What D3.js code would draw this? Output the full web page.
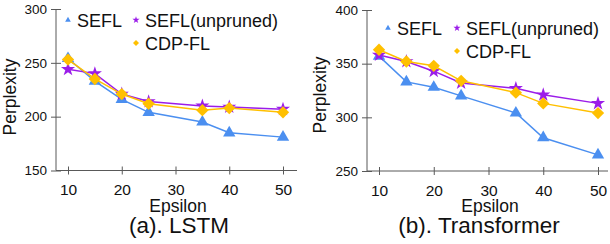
<!DOCTYPE html>
<html>
<head>
<meta charset="utf-8">
<script src="https://cdn.jsdelivr.net/npm/d3@7"></script>
<style>
  body { margin: 0; background: #fff; }
  svg { font-family: "Liberation Sans", Arial, sans-serif; }
</style>
</head>
<body>
<div id="chart"></div>
<script>
var svgWidth = 610;
var svgHeight = 244;

// data
var epsilon = [10, 15, 20, 25, 35, 40, 50];
var xTicks = [10, 20, 30, 40, 50];

var lstmSEFL = [254, 233, 216, 204, 195, 185, 181];
var lstmUnpruned = [244, 240, 221, 214, 210, 209, 207];
var lstmCDP = [253, 235, 221, 212, 206, 208, 204];
var lstmYTicks = [150, 200, 250, 300];

var tfSEFL = [357, 333, 328, 320, 304, 281, 265];
var tfUnpruned = [358, 352, 343, 332, 327, 321, 313];
var tfCDP = [363, 352, 348, 334, 323, 313, 304];
var tfYTicks = [250, 300, 350, 400];

var seriesNames = ["SEFL", "SEFL(unpruned)", "CDP-FL"];
var colors = ["#4b8ff0", "#9b1de9", "#ffc000"];

var svg = d3.select("#chart")
  .append("svg")
  .attr("width", svgWidth)
  .attr("height", svgHeight);

function marker(i, big) {
  if (i === 0) return d3.symbol().type(d3.symbolTriangle).size(big ? 66 : 14)();
  if (i === 1) return d3.symbol().type(d3.symbolStar).size(big ? 62 : 16)();
  return d3.symbol().type(d3.symbolSquare).size(big ? 76 : 18)();
}

function drawPanel(cfg) {
  var g = svg.append("g");

  var x = d3.scaleLinear().domain([10, 50]).range([cfg.x10, cfg.x50]);
  var y = d3.scaleLinear().domain([cfg.yTicks[0], cfg.yTicks[cfg.yTicks.length - 1]])
    .range([cfg.yBottom, cfg.yTop]);

  // axes
  var bottomAxis = d3.axisBottom(x).tickValues(xTicks).tickSize(4).tickSizeOuter(0);
  var xAxis = g.append("g")
    .attr("transform", `translate(0, ${cfg.yBottom})`)
    .call(bottomAxis);
  xAxis.select(".domain").remove();
  xAxis.selectAll(".tick line").attr("y1", -4).attr("stroke", "#595959");
  xAxis.selectAll(".tick text")
    .attr("y", 24.5)
    .attr("dy", 0)
    .style("font-size", "15.5px")
    .attr("fill", "#111");

  var leftAxis = d3.axisLeft(y).tickValues(cfg.yTicks).tickSize(5).tickSizeOuter(0);
  var yAxis = g.append("g")
    .attr("transform", `translate(${cfg.axisX}, 0)`)
    .call(leftAxis);
  yAxis.select(".domain").remove();
  yAxis.selectAll(".tick line").attr("x2", 5).attr("x1", -5).attr("stroke", "#595959");
  yAxis.selectAll(".tick text")
    .attr("x", -9)
    .style("font-size", "13.5px")
    .attr("fill", "#111");

  g.append("line")
    .attr("x1", cfg.axisX).attr("x2", cfg.axisX)
    .attr("y1", cfg.yTop).attr("y2", cfg.yBottom)
    .attr("stroke", "#595959");
  g.append("line")
    .attr("x1", cfg.axisX).attr("x2", cfg.axisEnd)
    .attr("y1", cfg.yBottom).attr("y2", cfg.yBottom)
    .attr("stroke", "#595959");

  // series
  var line = d3.line()
    .x((d, i) => x(epsilon[i]))
    .y(d => y(d));

  cfg.series.forEach(function(vals, k) {
    g.append("path")
      .datum(vals)
      .attr("d", line)
      .attr("fill", "none")
      .attr("stroke", colors[k])
      .attr("stroke-width", 1.5);

    g.selectAll(".m" + k)
      .data(vals)
      .enter()
      .append("path")
      .attr("class", "m" + k)
      .attr("d", marker(k, true))
      .attr("transform", (d, i) => `translate(${x(epsilon[i])}, ${y(d)})` + (k === 2 ? " rotate(45)" : ""))
      .attr("fill", colors[k]);
  });

  // legend
  var leg = cfg.legend;
  var items = [
    { k: 0, mx: leg.x0, ty: leg.y0 },
    { k: 1, mx: leg.x1, ty: leg.y0 },
    { k: 2, mx: leg.x1, ty: leg.y0 + 23 }
  ];
  items.forEach(function(it) {
    g.append("path")
      .attr("d", marker(it.k, false))
      .attr("transform", `translate(${it.mx}, ${it.ty - 7})` + (it.k === 2 ? " rotate(45)" : ""))
      .attr("fill", colors[it.k]);
    g.append("text")
      .attr("x", it.mx + 9)
      .attr("y", it.ty)
      .style("font-size", "18px")
      .attr("fill", "#111")
      .text(seriesNames[it.k]);
  });

  // axis titles
  g.append("text")
    .attr("transform", `translate(${cfg.yTitleX}, ${cfg.yTitleY}) rotate(-90)`)
    .attr("text-anchor", "middle")
    .style("font-size", "17.5px")
    .attr("fill", "#111")
    .text("Perplexity");

  g.append("text")
    .attr("x", cfg.xTitleX)
    .attr("y", 212)
    .attr("text-anchor", "middle")
    .style("font-size", "17.5px")
    .attr("fill", "#111")
    .text("Epsilon");

  g.append("text")
    .attr("x", cfg.captionX)
    .attr("y", 233)
    .attr("text-anchor", "middle")
    .style("font-size", "22.5px")
    .attr("fill", "#111")
    .text(cfg.caption);
}

drawPanel({
  x10: 68, x50: 283, axisX: 56, axisEnd: 297,
  yTop: 9, yBottom: 170.5,
  yTicks: lstmYTicks,
  series: [lstmSEFL, lstmUnpruned, lstmCDP],
  legend: { x0: 68, x1: 136, y0: 27 },
  yTitleX: 16, yTitleY: 97,
  xTitleX: 178, captionX: 179,
  caption: "(a). LSTM"
});

drawPanel({
  x10: 379, x50: 598, axisX: 367, axisEnd: 608,
  yTop: 10, yBottom: 171,
  yTicks: tfYTicks,
  series: [tfSEFL, tfUnpruned, tfCDP],
  legend: { x0: 388, x1: 457, y0: 35 },
  yTitleX: 326, yTitleY: 95,
  xTitleX: 490, captionX: 479,
  caption: "(b). Transformer"
});
</script>
</body>
</html>
